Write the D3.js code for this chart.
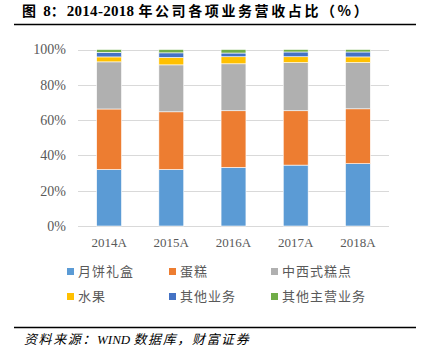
<!DOCTYPE html>
<html>
<head>
<meta charset="utf-8">
<script src="https://cdn.jsdelivr.net/npm/d3@7"></script>
<style>
  body { margin: 0; background: #fff; }
  svg { display: block; }
</style>
</head>
<body>
<div id="chart"></div>
<script>
// categories
const years = ["2014A", "2015A", "2016A", "2017A", "2018A"];
const seriesNames = ["月饼礼盒", "蛋糕", "中西式糕点", "水果", "其他业务", "其他主营业务"];
const seriesColors = ["#5B9BD5", "#ED7D31", "#B0B0B0", "#FFC000", "#4472C4", "#70AD47"];

// share of revenue, %
const mooncake = [32.0, 32.0, 33.2, 34.5, 35.3];
const cake     = [34.3, 32.7, 32.1, 30.8, 31.1];
const pastry   = [26.7, 26.6, 26.6, 27.3, 26.2];
const fruit    = [2.8, 4.2, 4.0, 3.3, 3.2];
const otherBiz = [2.6, 2.6, 2.1, 2.7, 2.8];
const otherMain = [1.6, 1.9, 2.0, 1.4, 1.4];

const yTicks = [0, 20, 40, 60, 80, 100];

const W = 424, H = 351;
const margin = {left: 78, right: 35, top: 49.5, bottom: 125};

const cjk = "'Noto Sans CJK SC', sans-serif";
const serif = "'Liberation Serif', 'Times New Roman', serif";

const svg = d3.select("#chart").append("svg")
    .attr("width", W)
    .attr("height", H);

// title: CJK parts and digit parts set in different faces
const title = svg.append("text")
    .attr("x", 22)
    .attr("y", 16)
    .style("font-weight", "bold")
    .style("font-size", "14px")
    .style("fill", "#000");
title.append("tspan").style("font-family", cjk).style("letter-spacing", "2px").text("图 ");
title.append("tspan").style("font-family", serif).style("font-size", "15px").text("8");
title.append("tspan").style("font-family", cjk).style("letter-spacing", "2px").text("：");
title.append("tspan").style("font-family", serif).style("font-size", "15px").style("letter-spacing", "0.3px").text("2014-2018");
title.append("tspan").style("font-family", cjk).style("letter-spacing", "2.6px").attr("dx", 4).text("年公司各项业务营收占比（%）");

svg.append("line")
    .attr("x1", 14).attr("x2", 416)
    .attr("y1", 24.5).attr("y2", 24.5)
    .attr("stroke", "#000").attr("stroke-width", 1.5);

svg.append("line")
    .attr("x1", 14).attr("x2", 416)
    .attr("y1", 327.5).attr("y2", 327.5)
    .attr("stroke", "#000").attr("stroke-width", 1.5);

const source = svg.append("text")
    .attr("x", 24)
    .attr("y", 344)
    .style("font-style", "italic")
    .style("font-size", "13px")
    .style("fill", "#000");
source.append("tspan").style("font-family", cjk).style("letter-spacing", "1.6px").text("资料来源：");
source.append("tspan").style("font-family", serif).text("WIND ");
source.append("tspan").style("font-family", cjk).style("letter-spacing", "1.6px").text("数据库，财富证券");

// build table for stack
const table = years.map((y, i) => ({
    year: y,
    s0: mooncake[i], s1: cake[i], s2: pastry[i],
    s3: fruit[i], s4: otherBiz[i], s5: otherMain[i]
}));
const keys = ["s0", "s1", "s2", "s3", "s4", "s5"];
const stacked = d3.stack().keys(keys)(table);

const x = d3.scaleBand()
    .domain(years)
    .range([margin.left, W - margin.right])
    .paddingInner(0.6)
    .paddingOuter(0.3);

const y = d3.scaleLinear()
    .domain([0, 100])
    .range([H - margin.bottom, margin.top]);

// gridlines
svg.append("g")
    .selectAll("line")
    .data(yTicks)
    .join("line")
    .attr("x1", margin.left)
    .attr("x2", W - margin.right)
    .attr("y1", d => Math.round(y(d)) + 0.5)
    .attr("y2", d => Math.round(y(d)) + 0.5)
    .attr("stroke", "#D9D9D9")
    .attr("stroke-width", 1);

// y labels
svg.append("g")
    .selectAll("text")
    .data(yTicks)
    .join("text")
    .attr("x", 66)
    .attr("y", d => y(d))
    .attr("dy", "0.35em")
    .attr("text-anchor", "end")
    .style("font-family", serif)
    .style("font-size", "14px")
    .style("fill", "#595959")
    .text(d => d + "%");

// bars
svg.append("g")
    .selectAll("g")
    .data(stacked)
    .join("g")
    .attr("fill", (d, i) => seriesColors[i])
    .selectAll("rect")
    .data(d => d)
    .join("rect")
    .attr("x", d => x(d.data.year))
    .attr("width", x.bandwidth())
    .attr("y", d => y(d[1]))
    .attr("height", d => y(d[0]) - y(d[1]))
    .attr("stroke", "#fff")
    .attr("stroke-width", 0.6);

// x labels
svg.append("g")
    .selectAll("text")
    .data(years)
    .join("text")
    .attr("x", d => x(d) + x.bandwidth() / 2)
    .attr("y", 247)
    .attr("text-anchor", "middle")
    .style("font-family", serif)
    .style("font-size", "13px")
    .style("fill", "#595959")
    .text(d => d);

// legend
const legendX = [67, 169, 271];
const legendY = [271.5, 296.5];
const legend = svg.append("g")
    .selectAll("g")
    .data(seriesNames)
    .join("g")
    .attr("transform", (d, i) => `translate(${legendX[i % 3]},${legendY[Math.floor(i / 3)]})`);

legend.append("rect")
    .attr("x", 0).attr("y", -3.5)
    .attr("width", 7).attr("height", 7)
    .attr("fill", (d, i) => seriesColors[i]);

legend.append("text")
    .attr("x", 11)
    .attr("dy", "0.35em")
    .style("font-family", cjk)
    .style("font-size", "13px")
    .style("letter-spacing", "1px")
    .style("fill", "#595959")
    .text(d => d);
</script>
</body>
</html>
